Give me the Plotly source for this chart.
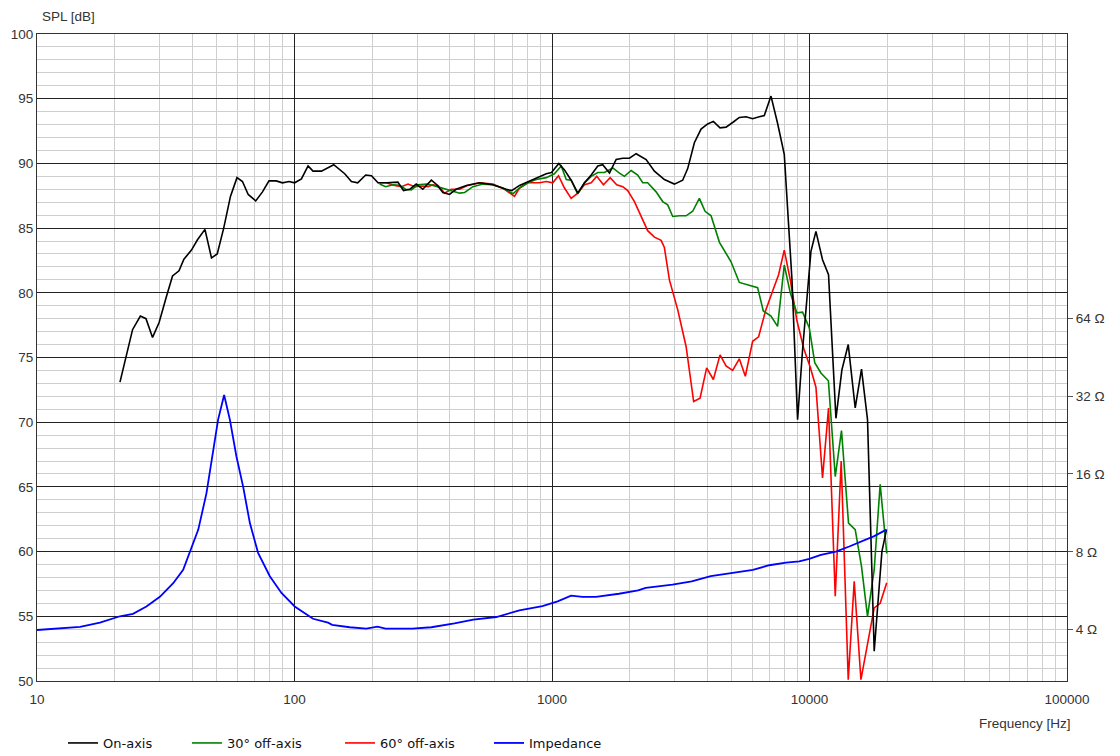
import plotly.graph_objects as go

# ---------------- data ----------------
on_f = [21.0, 21.9, 23.5, 25.2, 26.5, 28.1, 29.8, 31.8, 33.6, 35.6, 37.2, 39.8, 42.0, 44.9, 47.6, 50.1,
        53.1, 56.4, 59.8, 62.8, 66.1, 70.7, 75.1, 79.6, 84.9, 89.8, 95.3, 100.1, 106.4, 112.9, 118, 127.2,
        142, 156.7, 166.3, 176, 189, 199, 211, 228, 252, 265, 280, 297, 315, 340, 357, 377, 400, 424,
        465, 523, 589, 664, 697, 748, 806, 868, 950, 995, 1063, 1118, 1187, 1259, 1337, 1420, 1506, 1574,
        1672, 1775, 1883, 1998, 2122, 2320, 2499, 2732, 2987, 3217, 3365, 3572, 3792, 4022, 4232, 4494,
        4742, 5061, 5339, 5669, 6014, 6383, 6674, 7087, 7516, 7980, 8221, 8550, 8989, 9400, 10130, 10593,
        11237, 11855, 12666, 13360, 14140, 15050, 15920, 16800, 17835, 19105, 19910]
on_db = [73.1, 74.6, 77.15, 78.2, 78.0, 76.55, 77.7, 79.7, 81.3, 81.7, 82.6, 83.3, 84.1, 84.9, 82.7, 83.0,
         85.0, 87.45, 88.9, 88.6, 87.6, 87.1, 87.8, 88.65, 88.65, 88.5, 88.6, 88.5, 88.8, 89.8, 89.4, 89.4,
         89.9, 89.2, 88.6, 88.5, 89.1, 89.05, 88.5, 88.5, 88.55, 87.9, 88.0, 88.4, 88.0, 88.7, 88.35, 87.75, 87.6, 88.0,
         88.3, 88.5, 88.35, 88.0, 87.9, 88.3, 88.6, 88.9, 89.2, 89.3, 90.0, 89.5, 88.7, 87.7, 88.5, 89.1, 89.8, 89.9,
         89.25, 90.3, 90.4, 90.4, 90.75, 90.3, 89.4, 88.75, 88.4, 88.7, 89.6, 91.6, 92.65, 93.05, 93.25, 92.75,
         92.8, 93.2, 93.55, 93.6, 93.45, 93.6, 93.7, 95.2, 93.1, 90.7, 86.7, 81.0, 70.2, 75.6, 83.2, 84.75,
         82.55, 81.4, 70.3, 74.05, 76.0, 71.1, 74.1, 70.2, 52.3, 60.0, 61.7]

off30_f = [214, 226, 241, 256, 270, 284, 301.5, 325, 345, 366, 389, 412, 438, 458, 493, 539, 589, 644, 705,
           748, 806, 868, 950, 1022, 1086, 1136, 1187, 1259, 1337, 1420, 1506, 1598, 1722, 1828, 1911, 2029,
           2152, 2251, 2353, 2537, 2691, 2814, 2943, 3125, 3317, 3518, 3735, 3930, 4147, 4470, 4958, 5339,
           5839, 6288, 6616, 7087, 7516, 7980, 8421, 8925, 9400, 9977, 10481, 11076, 11840, 12589, 13313,
           14175, 15050, 15920, 16800, 17835, 18813, 19950]
off30_db = [88.4, 88.2, 88.35, 88.3, 88.0, 87.95, 88.35, 88.4, 88.3, 88.15, 87.95, 87.8, 87.7, 87.75, 88.2,
            88.4, 88.35, 88.1, 87.65, 88.1, 88.5, 88.75, 88.9, 89.2, 89.8, 88.75, 88.7, 87.65, 88.5, 89.0, 89.3,
            89.3, 89.65, 89.25, 89.0, 89.45, 89.1, 88.5, 88.5, 87.8, 87.05, 86.8, 85.9, 85.95, 85.95, 86.3, 87.3,
            86.3, 85.95, 83.9, 82.4, 80.8, 80.6, 80.4, 78.6, 78.2, 77.4, 82.15, 80.0, 78.45, 78.5, 77.3, 74.6,
            73.8, 73.2, 65.8, 69.35, 62.2, 61.7, 58.85, 55.0, 58.6, 65.2, 59.85]

off60_f = [211, 227, 245, 260, 276, 293, 311, 330, 345, 361, 383, 406, 438, 471, 523, 589, 654, 715, 748,
           806, 895, 950, 1007, 1060, 1118, 1187, 1259, 1337, 1420, 1492, 1584, 1682, 1784, 1883, 1968, 2090,
           2219, 2353, 2499, 2653, 2732, 2857, 3077, 3317, 3549, 3758, 3986, 4232, 4494, 4742, 5029, 5339,
           5633, 6014, 6344, 6736, 7151, 7585, 7980, 8421, 8925, 9500, 10067, 10593, 11237, 11855, 12589,
           13276, 14140, 14916, 15839, 16800, 17835, 18813, 19950]
off60_db = [88.5, 88.5, 88.3, 88.2, 88.4, 88.2, 88.25, 88.2, 88.35, 88.3, 87.7, 88.0, 88.0, 88.3, 88.5, 88.4,
            88.0, 87.45, 88.1, 88.5, 88.5, 88.6, 88.5, 89.05, 88.1, 87.3, 87.7, 88.35, 88.5, 89.0, 88.35, 88.9,
            88.35, 88.2, 87.9, 87.05, 85.9, 84.8, 84.3, 84.05, 83.5, 81.0, 78.7, 75.85, 71.6, 71.85, 74.2, 73.3,
            75.2, 74.35, 74.0, 74.9, 73.55, 76.25, 76.6, 78.55, 80.0, 81.4, 83.3, 81.0, 77.9, 75.7, 74.25, 72.7,
            65.7, 71.1, 56.55, 67.0, 50.1, 57.7, 50.1, 52.95, 55.65, 56.0, 57.6]

imp_f = [10, 12.3, 14.7, 17.55, 21.0, 23.6, 26.6, 30.0, 33.8, 36.95, 39.2, 42.3, 45.5, 48.3, 50.5, 53.3,
         56.1, 59.5, 63.2, 67.1, 72.2, 80.2, 89.0, 100.2, 118, 135, 140, 163.8, 190, 210, 225.6, 286.6, 340,
         418, 495, 608, 747, 918, 1052, 1186, 1314, 1481, 1820, 2160, 2312, 2937, 3487, 4136, 4909, 6029,
         6980, 8102, 9125, 9977, 11076, 12666, 14264, 16062, 17835, 19910]
imp_ohm = [3.99, 4.05, 4.1, 4.26, 4.51, 4.61, 4.92, 5.36, 6.05, 6.82, 7.93, 9.75, 13.46, 19.23, 25.94, 32.28,
           25.94, 18.68, 14.26, 10.33, 7.93, 6.44, 5.55, 4.92, 4.41, 4.26, 4.18, 4.09, 4.04, 4.11, 4.04, 4.04,
           4.09, 4.23, 4.38, 4.48, 4.75, 4.94, 5.15, 5.42, 5.36, 5.36, 5.51, 5.68, 5.81, 5.98, 6.15, 6.44, 6.59,
           6.82, 7.10, 7.27, 7.35, 7.52, 7.79, 8.02, 8.39, 8.79, 9.20, 9.75]

x_ticks = [10, 100, 1000, 10000, 100000]
x_ticktext = ["10", "100", "1000", "10000", "100000"]
spl_ticks = [50, 55, 60, 65, 70, 75, 80, 85, 90, 95, 100]
imp_ticks = [4, 8, 16, 32, 64]
imp_ticktext = ["4 Ω", "8 Ω", "16 Ω", "32 Ω", "64 Ω"]

# ---------------- figure ----------------
TICKFONT = dict(family="Liberation Sans, Arial, sans-serif", size=13.5, color="#333333")
LEGFONT = dict(family="DejaVu Sans, Verdana, sans-serif", size=13, color="#111111")

fig = go.Figure()
fig.add_trace(go.Scatter(x=imp_f, y=imp_ohm, mode="lines", name="Impedance", yaxis="y2",
                         line=dict(color="#0000ff", width=1.8), legend="legend4"))
fig.add_trace(go.Scatter(x=off60_f, y=off60_db, mode="lines", name="60° off-axis",
                         line=dict(color="#ff0000", width=1.6), legend="legend3"))
fig.add_trace(go.Scatter(x=off30_f, y=off30_db, mode="lines", name="30° off-axis",
                         line=dict(color="#008000", width=1.6), legend="legend2"))
fig.add_trace(go.Scatter(x=on_f, y=on_db, mode="lines", name="On-axis",
                         line=dict(color="#000000", width=1.6), legend="legend"))

# page body adds an 8px offset, so the figure is 8px smaller and margins shifted
FIG_W, FIG_H = 1112, 748
W = 1030.0

def leg(xp):
    return dict(x=xp, y=0.0174, xref="paper", yref="container", xanchor="left", yanchor="middle",
                orientation="h", bgcolor="rgba(0,0,0,0)", font=LEGFONT, borderwidth=0)

fig.update_layout(
    width=FIG_W, height=FIG_H, autosize=False,
    margin=dict(l=29, r=53, t=26, b=74.5),
    paper_bgcolor="white", plot_bgcolor="white",
    showlegend=True,
    legend=leg(0.0204 + 5 / W), legend2=leg(0.1417 + 4 / W), legend3=leg(0.2893 + 5 / W),
    legend4=leg(0.4340 + 5 / W),
    xaxis=dict(type="log", range=[1, 5], tickvals=x_ticks, ticktext=x_ticktext, automargin=False,
               showgrid=True, gridcolor="#222222", gridwidth=1,
               minor=dict(dtick="D1", showgrid=True, gridcolor="#cfcfcf", gridwidth=1, ticks=""),
               showline=True, linecolor="#333333", linewidth=1, mirror=True,
               ticks="", tickfont=TICKFONT, zeroline=False, ticklabelstandoff=6),
    yaxis=dict(range=[50, 100], tickvals=spl_ticks, showgrid=True, gridcolor="#222222", gridwidth=1,
               automargin=False,
               minor=dict(dtick=1, showgrid=True, gridcolor="#cfcfcf", gridwidth=1, ticks=""),
               showline=True, linecolor="#333333", linewidth=1, mirror=True,
               ticks="", tickfont=TICKFONT, zeroline=False),
    yaxis2=dict(type="log", range=[0.404, 2.904], overlaying="y", side="right", automargin=False,
                tickvals=imp_ticks, ticktext=imp_ticktext, showgrid=False,
                ticks="outside", ticklen=5, tickcolor="#555555", tickfont=TICKFONT,
                showline=False, zeroline=False),
    annotations=[
        dict(text="SPL [dB]", xref="paper", yref="paper", x=(40 - 37) / W, y=1.0,
             xanchor="left", yanchor="bottom", yshift=8, showarrow=False, font=TICKFONT),
        dict(text="Frequency [Hz]", xref="paper", yref="paper", x=(1073 - 37) / W, y=0.0,
             xanchor="right", yanchor="middle", yshift=-42, showarrow=False, font=TICKFONT),
    ],
)

fig.write_html("out.html")
